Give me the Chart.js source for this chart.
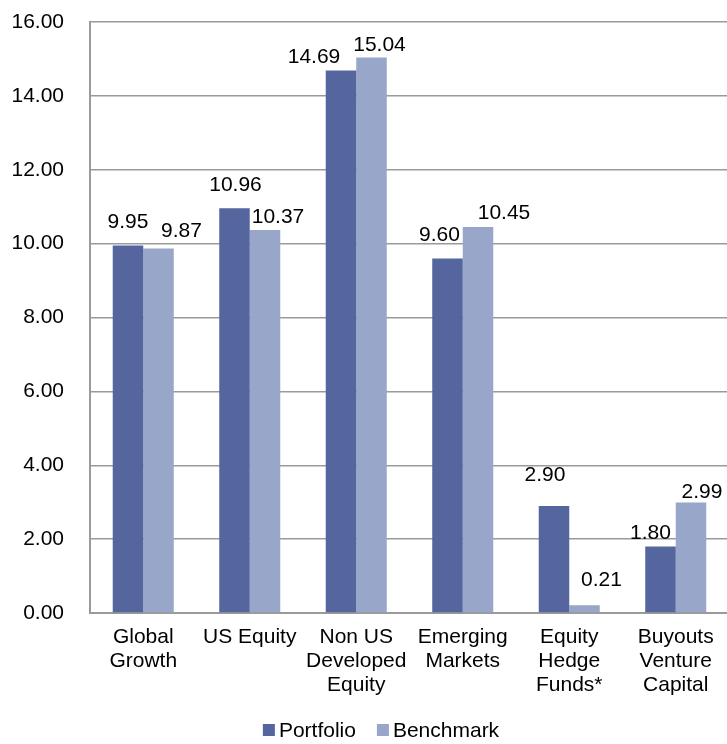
<!DOCTYPE html>
<html>
<head>
<meta charset="utf-8">
<script src="https://cdn.jsdelivr.net/npm/chart.js@4/dist/chart.umd.min.js"></script>
<style>
  html, body { margin: 0; padding: 0; background: #fff; overflow: hidden; }
  #wrap { position: relative; width: 727px; height: 744px; overflow: hidden; }
  #box { position: absolute; left: 0; top: 0; width: 731px; height: 744px; }
</style>
</head>
<body>
<div id="wrap"><div id="box"><canvas id="chart"></canvas></div></div>
<script>
// chart data
const categories = [
    ['Global', 'Growth'],
    'US Equity',
    ['Non US', 'Developed', 'Equity'],
    ['Emerging', 'Markets'],
    ['Equity', 'Hedge', 'Funds*'],
    ['Buyouts', 'Venture', 'Capital']
];
const portfolio = [9.95, 10.96, 14.69, 9.60, 2.90, 1.80];
const benchmark = [9.87, 10.37, 15.04, 10.45, 0.21, 2.99];
const seriesNames = ['Portfolio', 'Benchmark'];

// label nudges (px) relative to each bar top, to follow the hand-placed labels
const labelNudges = [
    [[0, -23], [1, -23], [-27, -13], [-8, -23], [-9, -31], [-10, -13]],
    [[23, -17], [13, -13], [8, -12], [26, -14], [17, -25], [11, -10]]
];

const FONT = '"Liberation Sans", Arial, sans-serif';
const colors = ['#55669F', '#98A6C9'];

// draws the value labels above the bars
const valueLabels = {
    id: 'valueLabels',
    afterDatasetsDraw(chart) {
        const ctx = chart.ctx;
        ctx.save();
        ctx.font = '21px ' + FONT;
        ctx.fillStyle = '#000';
        ctx.textAlign = 'center';
        ctx.textBaseline = 'middle';
        chart.data.datasets.forEach((ds, i) => {
            chart.getDatasetMeta(i).data.forEach((bar, j) => {
                const n = labelNudges[i][j];
                ctx.fillText(ds.data[j].toFixed(2), bar.x + n[0], bar.y + n[1]);
            });
        });
        ctx.restore();
    }
};

// small legend at the bottom, squares close to the text like the original
const bottomLegend = {
    id: 'bottomLegend',
    afterDraw(chart) {
        const ctx = chart.ctx;
        ctx.save();
        ctx.font = '21px ' + FONT;
        ctx.textBaseline = 'middle';
        const items = chart.data.datasets.map(ds => ({
            text: ds.label, color: ds.backgroundColor, w: ctx.measureText(ds.label).width
        }));
        const box = 12, gap = 4, between = 21;
        let total = items.reduce((s, it) => s + box + gap + it.w, 0) + between * (items.length - 1);
        let x = 381 - total / 2;
        const y = 730;
        items.forEach(it => {
            ctx.fillStyle = it.color;
            ctx.fillRect(x, y - box / 2, box, box);
            ctx.fillStyle = '#000';
            ctx.fillText(it.text, x + box + gap, y + 1);
            x += box + gap + it.w + between;
        });
        ctx.restore();
    }
};

new Chart(document.getElementById('chart'), {
    type: 'bar',
    data: {
        labels: categories,
        datasets: [
            { label: seriesNames[0], data: portfolio, backgroundColor: colors[0] },
            { label: seriesNames[1], data: benchmark, backgroundColor: colors[1] }
        ]
    },
    options: {
        responsive: true,
        maintainAspectRatio: false,
        animation: false,
        barPercentage: 1,
        categoryPercentage: 0.573,
        layout: { padding: { top: 22, left: 0, right: 2, bottom: 46 } },
        plugins: {
            tooltip: { enabled: false },
            legend: { display: false }
        },
        scales: {
            x: {
                grid: { display: false, drawTicks: false },
                border: { color: '#9a9a9a', width: 2 },
                ticks: {
                    color: '#000',
                    font: { family: FONT, size: 21, lineHeight: 1.15 },
                    padding: 12,
                    maxRotation: 0,
                    autoSkip: false
                },
                afterFit(scale) { scale.height = 85; }
            },
            y: {
                min: 0,
                max: 16,
                grid: {
                    color: '#9a9a9a',
                    lineWidth: 1.5,
                    drawTicks: true,
                    tickLength: 26,
                    tickColor: 'rgba(0,0,0,0)'
                },
                border: { color: '#9a9a9a', width: 2 },
                ticks: {
                    stepSize: 2,
                    color: '#000',
                    font: { family: FONT, size: 21 },
                    padding: 0,
                    callback: v => v.toFixed(2)
                },
                afterFit(scale) { scale.width = 90; }
            }
        }
    },
    plugins: [valueLabels, bottomLegend]
});
</script>
</body>
</html>
